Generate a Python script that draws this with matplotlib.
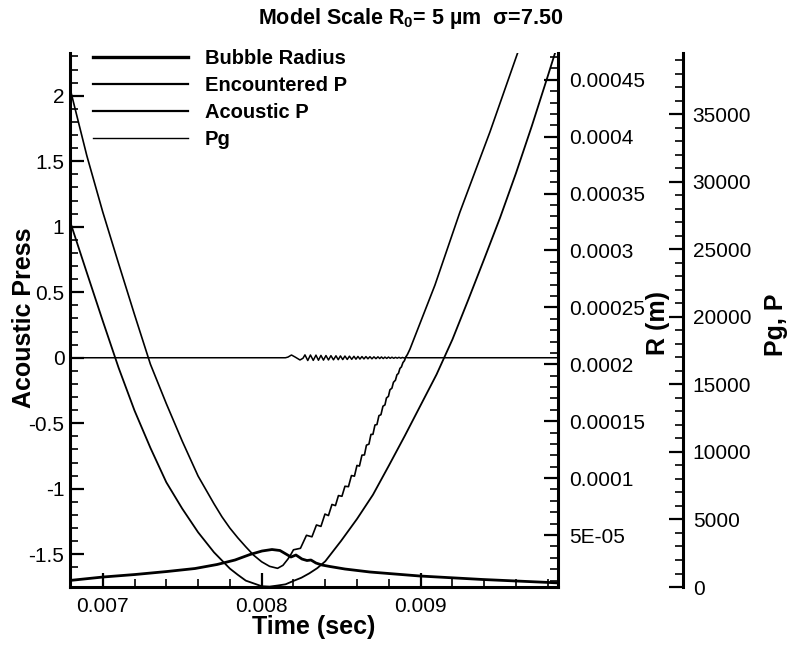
import matplotlib
matplotlib.use("Agg")
import matplotlib.pyplot as plt
from matplotlib.lines import Line2D
from matplotlib.ticker import MultipleLocator, FuncFormatter

plt.rcParams["font.family"] = ["Liberation Sans", "DejaVu Sans"]
plt.rcParams["axes.unicode_minus"] = False
plt.rcParams["mathtext.fontset"] = "custom"
plt.rcParams["mathtext.rm"] = "Liberation Sans:bold"
plt.rcParams["mathtext.bf"] = "Liberation Sans:bold"
plt.rcParams["mathtext.it"] = "Liberation Sans:bold"

# encountered pressure (Pa) - smooth parabola
t_enc = [0.00679, 0.0068, 0.0069, 0.0070, 0.0071, 0.0072, 0.0073, 0.0074, 0.0075,
         0.0076, 0.0077, 0.0078, 0.00785, 0.0079, 0.00795, 0.0080, 0.00805, 0.0081,
         0.00815, 0.0082, 0.00825, 0.0083, 0.00835, 0.0084, 0.0085, 0.0086, 0.0087,
         0.0088, 0.0089, 0.0090, 0.0091, 0.0092, 0.0093, 0.0094, 0.0095, 0.0096,
         0.0097, 0.0098, 0.0099]
p_enc = [27221, 26865, 23273, 19710, 16229, 13066, 10303, 7755, 5807,
         4052, 2570, 1363, 904, 474, 267, 60, 30, 110,
         200, 452, 689, 1015, 1400, 1904, 3422, 5044, 6829,
         8985, 11185, 13459, 15732, 18325, 21273, 24288, 27347, 30643,
         34146, 37827, 41576]

# gas pressure (Pa) - parabola with oscillations after collapse
t_pg = [0.00679, 0.0068, 0.0069, 0.0070, 0.0071, 0.0072, 0.0073, 0.0074, 0.0075,
        0.0076, 0.0077, 0.00775, 0.0078, 0.00785, 0.0079, 0.00795, 0.0080, 0.00805,
        0.0081, 0.008134, 0.0081654, 0.0081843,
        0.0082000, 0.0082440, 0.0082818, 0.0083163, 0.0083446, 0.0083729,
        0.0083981, 0.0084201, 0.0084421, 0.0084641, 0.0084830, 0.0085050,
        0.0085239, 0.0085459, 0.0085648, 0.0085836, 0.0085994, 0.0086151,
        0.0086308, 0.0086465, 0.0086591, 0.0086748, 0.0086874, 0.0087000,
        0.0087126, 0.0087252, 0.0087377, 0.0087503, 0.0087629, 0.0087755,
        0.0087849, 0.0087975, 0.0088069, 0.0088195, 0.0088289, 0.0088415,
        0.0088509, 0.0088604, 0.0088698, 0.0088792, 0.0088887, 0.0088981,
        0.0089075, 0.0089169, 0.0089327, 0.0089956, 0.0090899, 0.0091685,
        0.0092471, 0.0093414, 0.0094358, 0.0095207, 0.0096056, 0.0096560]
p_pg = [37117, 36642, 31932, 27776, 23939, 20169, 16495, 13577, 10807,
        8214, 6163, 5200, 4363, 3640, 2978, 2350, 1867, 1530,
        1385, 1607, 2074, 2422,
        2755, 2867, 3829, 3718, 4592, 4489,
        5400, 5289, 6111, 6029, 6770, 6718,
        7459, 7429, 8251, 8207, 9000, 8955,
        9762, 9777, 10503, 10577, 11296, 11303,
        11992, 12029, 12688, 12755, 13384, 13481,
        13992, 14118, 14599, 14725, 15155, 15310,
        15710, 15814, 16184, 16295, 16614, 16755,
        17044, 17214, 17607, 19503, 22347, 25050,
        27754, 30717, 33680, 36531, 39383, 41087]

# acoustic pressure radiated by the bubble
t_ac = [0.00679, 0.0081497, 0.0081654, 0.0081874, 0.0082126, 0.0082409, 0.0082597,
        0.0082723, 0.0082899, 0.0083069, 0.0083245, 0.0083415, 0.0083572, 0.0083729,
        0.0083887, 0.0084044, 0.0084201, 0.0084358, 0.0084516, 0.0084673, 0.0084817,
        0.0084956, 0.0085100, 0.0085239, 0.0085383, 0.0085522, 0.0085666, 0.0085805,
        0.0085931, 0.0086056, 0.0086182, 0.0086308, 0.0086434, 0.0086559, 0.0086685,
        0.0086811, 0.0086937, 0.0087063, 0.0087189, 0.0087314, 0.0087428, 0.0087535,
        0.0087648, 0.0087755, 0.0087868, 0.0087975, 0.0088088, 0.0088195, 0.0088308,
        0.0088415, 0.0088528, 0.0088635, 0.0088748, 0.0088855, 0.0088968, 0.0089075,
        0.0089201, 0.00988]
a_ac = [0, 0, 0.005, 0.021, 0.004, -0.017, -0.004,
        0.022, -0.021, 0.021, -0.020, 0.020, -0.019, 0.018,
        -0.018, 0.017, -0.017, 0.016, -0.016, 0.015, -0.015,
        0.014, -0.014, 0.013, -0.013, 0.012, -0.012, 0.011,
        -0.011, 0.010, -0.010, 0.009, -0.009, 0.009, -0.008,
        0.008, -0.008, 0.007, -0.007, 0.007, -0.006, 0.006,
        -0.006, 0.005, -0.005, 0.005, -0.004, 0.004, -0.004,
        0.003, -0.003, 0.003, -0.003, 0.002, -0.002, 0.002,
        0, 0]

# bubble radius (m)
t_r = [0.00679, 0.0070019, 0.0072032, 0.0074044, 0.0075805, 0.0077189, 0.0078321,
       0.0079264, 0.0080019, 0.0080648, 0.0081151, 0.0081528, 0.0081843, 0.0082157,
       0.0082534, 0.0082849, 0.0083101, 0.0083415, 0.0083792, 0.0084296, 0.0085239,
       0.0086811, 0.0089956, 0.0093918, 0.0098132, 0.0098761]
r_m = [1.002e-5, 1.309e-5, 1.529e-5, 1.793e-5, 2.056e-5, 2.408e-5, 2.803e-5,
       3.286e-5, 3.594e-5, 3.726e-5, 3.638e-5, 3.330e-5, 3.067e-5, 3.242e-5,
       2.891e-5, 2.759e-5, 2.803e-5, 2.539e-5, 2.364e-5, 2.232e-5, 2.012e-5,
       1.749e-5, 1.397e-5, 1.090e-5, 8.26e-6, 7.82e-6]

legend_labels = ["Bubble Radius", "Encountered P", "Acoustic P", "Pg"]

fig = plt.figure(figsize=(7.87, 6.49), dpi=100)
ax = fig.add_axes([0.0889, 0.0955, 0.6207, 0.8228])
ax_r = ax.twinx()
ax_p = ax.twinx()

ax.plot(t_ac, a_ac, color="k", lw=1.1)
ax_r.plot(t_r, r_m, color="k", lw=2.0)
ax_p.plot(t_enc, p_enc, color="k", lw=1.3)
ax_p.plot(t_pg, p_pg, color="k", lw=1.2)

ax.set_xlim(0.006794, 0.009867)
ax.set_ylim(-1.75, 2.326)
ax_r.set_ylim(4.3e-6, 4.735e-4)
ax_p.set_ylim(0, 39530)

for a in (ax, ax_r, ax_p):
    a.spines["top"].set_visible(False)
    for s in a.spines.values():
        s.set_linewidth(2.2)
ax.spines["right"].set_visible(False)
for a in (ax_r, ax_p):
    a.spines["left"].set_visible(False)
    a.spines["bottom"].set_visible(False)
ax_p.spines["right"].set_position(("axes", 1.255))

ax.xaxis.set_major_locator(MultipleLocator(0.001))
ax.xaxis.set_minor_locator(MultipleLocator(0.0002))
ax.yaxis.set_major_locator(MultipleLocator(0.5))
ax.yaxis.set_minor_locator(MultipleLocator(0.1))
ax_r.yaxis.set_major_locator(MultipleLocator(5e-5))
ax_r.yaxis.set_minor_locator(MultipleLocator(1e-5))
ax_p.yaxis.set_major_locator(MultipleLocator(5000))
ax_p.yaxis.set_minor_locator(MultipleLocator(1000))

ax.xaxis.set_major_formatter(FuncFormatter(lambda v, p: f"{round(v, 6) + 0:g}"))
ax.yaxis.set_major_formatter(FuncFormatter(lambda v, p: f"{round(v, 4) + 0:g}"))
ax_r.yaxis.set_major_formatter(FuncFormatter(lambda v, p: f"{round(v, 8):G}"))
ax_p.yaxis.set_major_formatter(FuncFormatter(lambda v, p: f"{v:.0f}"))

for a in (ax, ax_r, ax_p):
    a.tick_params(which="major", direction="in", length=10, width=1.6, labelsize=15)
    a.tick_params(which="minor", direction="in", length=5.5, width=1.2)
ax.tick_params(axis="x", pad=7)
ax.tick_params(axis="y", pad=4)
ax_r.tick_params(axis="y", pad=8)
ax_p.tick_params(axis="y", pad=7)

fig.text(0.0305, 0.51, "Acoustic Press", rotation=90, fontsize=18,
         fontweight="bold", ha="center", va="center")
fig.text(0.836, 0.503, "R (m)", rotation=90, fontsize=18,
         fontweight="bold", ha="center", va="center")
fig.text(0.986, 0.499, "Pg, P", rotation=90, fontsize=18,
         fontweight="bold", ha="center", va="center")
fig.text(0.399, 0.034, "Time (sec)", fontsize=18, fontweight="bold",
         ha="center", va="center")
fig.text(0.522, 0.972, "Model Scale R$_{0}$= 5 \u00b5m  \u03c3=7.50", fontsize=15.5,
         fontweight="bold", ha="center", va="center")

handles = [Line2D([], [], color="k", lw=2.4),
           Line2D([], [], color="k", lw=1.6),
           Line2D([], [], color="k", lw=1.6),
           Line2D([], [], color="k", lw=1.0)]
ax_p.legend(handles, legend_labels, loc="upper left", bbox_to_anchor=(0.047, 1.008),
            bbox_transform=ax.transAxes, frameon=False, borderpad=0, borderaxespad=0,
            handlelength=4.72, handletextpad=0.85, labelspacing=0.40,
            prop={"size": 14.5, "weight": "bold"})

fig.savefig("out.png", dpi=100)
